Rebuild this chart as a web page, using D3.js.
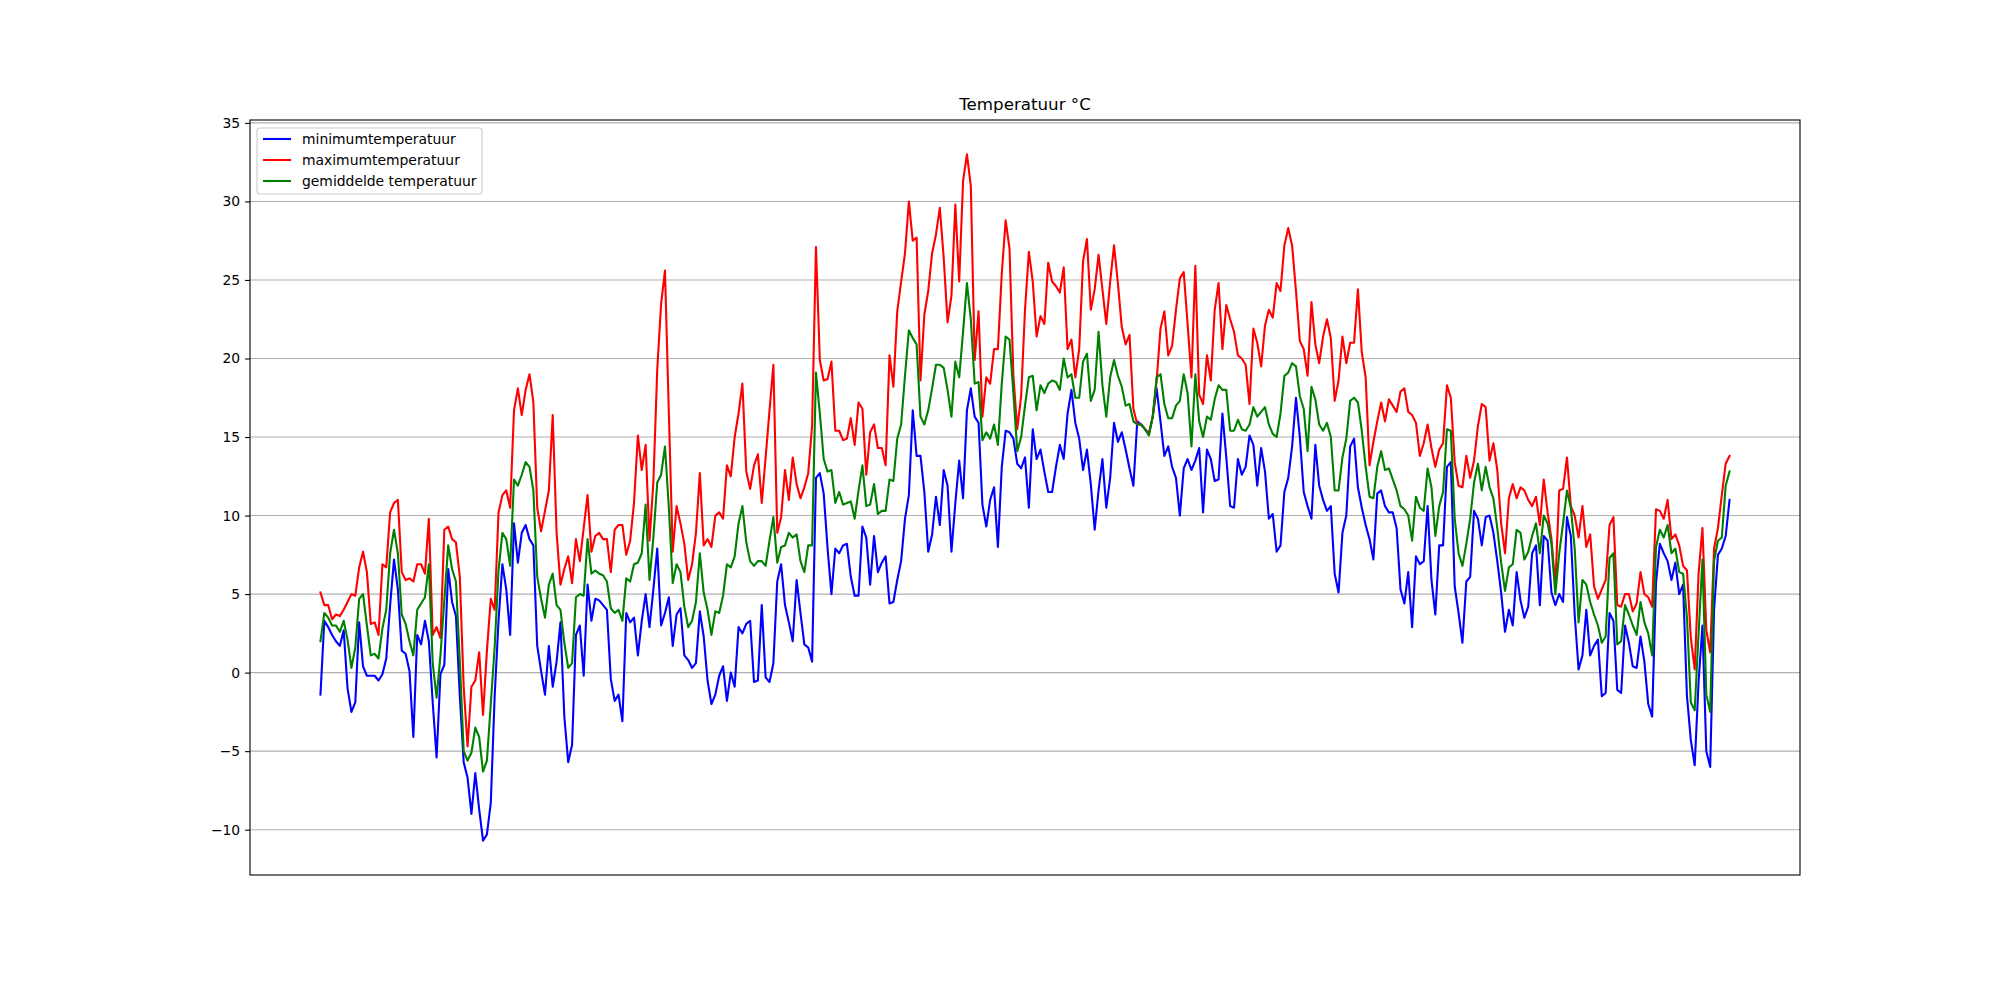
<!DOCTYPE html>
<html>
<head>
<meta charset="utf-8">
<script src="https://cdn.jsdelivr.net/npm/d3@7"></script>
<style>
  body { margin: 0; background: #ffffff; }
  text { font-family: "DejaVu Sans", sans-serif; }
</style>
</head>
<body>
<div class="svg-container"></div>
<script>
var width = 2000;
var height = 1000;
var margin = {top: 120, right: 200, bottom: 125, left: 250};

// daily values, one per day of the year
var minimumtemperatuur = [
  -1.4, 3.3, 2.9, 2.4, 2.0, 1.7, 2.7, -1.0, -2.5, -1.9,
  3.2, 0.4, -0.2, -0.2, -0.2, -0.5, -0.1, 0.9, 4.3, 7.2,
  5.3, 1.4, 1.2, 0.1, -4.1, 2.4, 1.8, 3.3, 2.0, -1.9,
  -5.4, -0.1, 0.5, 6.6, 4.5, 3.6, -1.5, -5.7, -6.7, -9.0,
  -6.4, -8.7, -10.7, -10.3, -8.3, -1.5, 3.3, 6.9, 5.3, 2.4,
  9.5, 7.0, 8.9, 9.4, 8.5, 8.1, 1.7, 0.1, -1.4, 1.7,
  -0.9, 0.7, 3.2, -2.8, -5.7, -4.6, 2.4, 3.0, -0.2, 5.6,
  3.3, 4.7, 4.6, 4.3, 4.0, -0.4, -1.8, -1.4, -3.1, 3.8,
  3.2, 3.5, 1.1, 3.3, 5.0, 2.9, 5.3, 7.9, 3.0, 3.8,
  4.8, 1.7, 3.7, 4.1, 1.1, 0.8, 0.3, 0.6, 3.9, 2.3,
  -0.5, -2.0, -1.4, -0.2, 0.4, -1.8, 0.0, -0.9, 2.9, 2.5,
  3.1, 3.3, -0.6, -0.5, 4.3, -0.3, -0.6, 0.6, 5.8, 6.9,
  4.3, 3.2, 2.0, 5.9, 3.8, 1.8, 1.6, 0.7, 12.4, 12.7,
  11.4, 7.9, 5.0, 7.9, 7.6, 8.1, 8.2, 6.1, 4.9, 4.9,
  9.3, 8.6, 5.6, 8.7, 6.4, 7.0, 7.4, 4.4, 4.5, 5.9,
  7.1, 9.8, 11.3, 16.7, 13.8, 13.8, 11.5, 7.7, 8.8, 11.2,
  9.4, 12.9, 11.9, 7.7, 10.8, 13.5, 11.1, 16.7, 18.1, 16.3,
  15.9, 10.7, 9.3, 11.0, 11.8, 8.0, 13.1, 15.4, 15.3, 14.9,
  13.3, 13.0, 13.7, 10.5, 15.5, 13.6, 14.2, 12.8, 11.5, 11.5,
  13.1, 14.5, 13.6, 16.5, 18.0, 15.9, 14.9, 12.9, 14.2, 12.0,
  9.1, 11.6, 13.6, 10.5, 12.4, 15.9, 14.7, 15.3, 14.2, 13.0,
  11.9, 16.0, 15.8, 15.5, 15.2, 16.3, 18.1, 16.0, 13.8, 14.4,
  13.1, 12.4, 10.0, 13.0, 13.6, 12.9, 13.5, 14.3, 10.2, 14.2,
  13.6, 12.2, 12.3, 16.5, 13.7, 10.6, 10.5, 13.6, 12.6, 13.1,
  15.1, 14.5, 11.9, 14.3, 12.8, 9.8, 10.1, 7.7, 8.1, 11.5,
  12.4, 14.4, 17.5, 15.0, 11.5, 10.6, 9.8, 14.5, 11.9, 11.0,
  10.3, 10.6, 6.3, 5.1, 8.9, 10.0, 14.4, 14.9, 11.8, 10.5,
  9.4, 8.5, 7.2, 11.4, 11.6, 10.6, 10.2, 10.2, 9.2, 5.3,
  4.4, 6.4, 2.9, 7.4, 6.9, 7.1, 10.6, 5.9, 3.7, 8.1,
  8.1, 13.1, 13.4, 5.5, 3.8, 1.9, 5.8, 6.1, 10.3, 9.8,
  8.1, 9.9, 10.0, 8.9, 7.1, 5.1, 2.6, 4.0, 3.0, 6.4,
  4.6, 3.5, 4.2, 7.6, 8.1, 4.3, 8.7, 8.4, 5.1, 4.3,
  5.0, 4.5, 9.9, 8.7, 3.7, 0.2, 1.1, 4.0, 1.1, 1.7,
  2.1, -1.5, -1.3, 3.8, 3.3, -1.1, -1.3, 3.0, 1.9, 0.4,
  0.3, 2.3, 0.7, -2.0, -2.8, 5.7, 8.2, 7.6, 7.1, 5.9,
  7.0, 5.0, 5.6, -1.5, -4.3, -5.9, -0.6, 3.0, -5.0, -6.0,
  4.0, 7.5, 7.9, 8.7, 11.0
];

var maximumtemperatuur = [
  5.1, 4.3, 4.3, 3.4, 3.7, 3.6, 4.0, 4.5, 5.0, 4.9,
  6.7, 7.7, 6.4, 3.1, 3.2, 2.4, 6.9, 6.7, 10.2, 10.8,
  11.0, 6.4, 5.9, 6.0, 5.8, 6.9, 6.9, 6.3, 9.8, 2.4,
  2.9, 2.2, 9.1, 9.3, 8.5, 8.3, 6.1, -0.9, -4.7, -0.9,
  -0.5, 1.3, -2.7, 1.4, 4.7, 4.0, 10.2, 11.3, 11.6, 10.5,
  16.7, 18.1, 16.4, 18.0, 19.0, 17.2, 10.5, 9.0, 10.3, 11.6,
  16.4, 8.9, 5.6, 6.6, 7.4, 5.7, 8.5, 7.1, 9.2, 11.3,
  7.7, 8.7, 8.9, 8.5, 8.5, 6.4, 9.1, 9.4, 9.4, 7.5,
  8.4, 10.8, 15.1, 12.9, 14.5, 8.4, 12.1, 19.3, 23.5, 25.6,
  16.5, 7.7, 10.6, 9.5, 8.2, 5.9, 6.9, 8.9, 12.7, 8.1,
  8.5, 8.0, 10.0, 10.2, 9.8, 13.2, 12.5, 15.0, 16.5, 18.4,
  12.8, 11.7, 13.2, 13.9, 10.8, 13.7, 16.7, 19.6, 8.9, 9.9,
  12.9, 11.0, 13.7, 12.0, 11.1, 11.8, 12.7, 15.7, 27.1, 19.9,
  18.6, 18.7, 19.8, 15.4, 15.4, 14.8, 14.9, 16.2, 14.5, 17.2,
  16.8, 12.6, 15.3, 15.8, 14.3, 14.3, 13.2, 20.2, 18.2, 23.0,
  24.9, 26.7, 30.0, 27.5, 27.7, 18.6, 22.8, 24.3, 26.7, 27.9,
  29.6, 26.4, 22.3, 24.0, 29.8, 24.9, 31.3, 33.0, 31.0, 19.9,
  23.0, 16.3, 18.8, 18.4, 20.6, 20.6, 25.4, 28.8, 27.0, 18.9,
  15.5, 17.6, 23.1, 26.8, 24.9, 21.4, 22.7, 22.2, 26.1, 24.9,
  24.6, 24.2, 25.8, 20.6, 21.2, 18.8, 20.6, 26.2, 27.6, 23.1,
  24.4, 26.6, 24.4, 22.2, 24.9, 27.2, 24.8, 22.0, 20.9, 21.5,
  16.8, 15.8, 15.8, 15.5, 15.2, 16.3, 18.6, 21.9, 23.0, 20.2,
  20.8, 23.1, 25.1, 25.5, 22.2, 18.8, 25.9, 17.7, 17.1, 20.2,
  18.6, 23.1, 24.8, 20.6, 23.4, 22.5, 21.7, 20.2, 20.0, 19.6,
  17.1, 21.9, 21.0, 19.5, 22.1, 23.1, 22.6, 24.8, 24.3, 27.2,
  28.3, 27.2, 24.3, 21.1, 20.6, 18.9, 23.6, 20.9, 19.7, 21.4,
  22.5, 21.3, 17.3, 18.6, 21.4, 19.7, 21.0, 21.0, 24.4, 20.4,
  18.8, 13.2, 14.7, 16.0, 17.2, 16.0, 17.4, 17.0, 16.6, 17.9,
  18.1, 16.6, 16.4, 15.9, 13.8, 14.6, 15.8, 14.3, 13.1, 14.2,
  14.6, 18.3, 17.5, 13.4, 11.9, 11.8, 13.8, 12.4, 13.5, 15.7,
  17.1, 16.9, 13.5, 14.6, 12.9, 9.5, 7.6, 11.1, 12.0, 11.1,
  11.8, 11.6, 11.0, 10.6, 11.2, 9.4, 12.3, 10.2, 8.5, 5.5,
  11.6, 11.7, 13.7, 10.6, 10.0, 8.6, 10.6, 8.0, 8.8, 5.5,
  4.7, 5.3, 5.9, 9.4, 9.9, 4.3, 4.2, 5.0, 5.0, 3.9,
  4.4, 6.4, 5.0, 4.8, 4.2, 10.4, 10.3, 9.8, 11.0, 8.5,
  8.8, 8.1, 6.8, 6.5, 2.2, 0.2, 6.3, 9.2, 2.7, 1.3,
  7.9, 9.2, 11.3, 13.3, 13.8
];

var gemiddeldeTemperatuur = [
  2.0, 3.8, 3.5, 3.0, 3.0, 2.6, 3.3, 2.1, 0.3, 1.6,
  4.7, 5.0, 3.0, 1.1, 1.2, 0.9, 2.8, 4.0, 7.6, 9.1,
  7.6, 3.7, 3.1, 2.0, 1.1, 4.0, 4.4, 4.8, 6.9, 0.6,
  -1.6, 1.1, 4.6, 8.1, 6.6, 5.8, 0.7, -5.0, -5.6, -5.1,
  -3.5, -4.1, -6.3, -5.6, -2.0, 1.6, 6.5, 8.9, 8.5, 6.8,
  12.3, 11.9, 12.6, 13.4, 13.1, 11.6, 6.1, 4.7, 3.5, 5.6,
  6.3, 4.3, 4.0, 1.9, 0.3, 0.6, 4.8, 5.0, 4.9, 8.5,
  6.3, 6.5, 6.3, 6.2, 5.8, 4.1, 3.8, 4.0, 3.3, 6.0,
  5.8, 6.9, 7.0, 7.6, 10.7, 5.9, 8.6, 12.1, 12.6, 14.4,
  10.5, 5.7, 6.9, 6.4, 4.2, 2.9, 3.3, 4.5, 7.6, 5.1,
  4.0, 2.4, 3.9, 3.8, 4.9, 6.9, 6.7, 7.4, 9.5, 10.6,
  8.3, 7.1, 6.8, 7.1, 7.1, 6.8, 8.4, 9.9, 7.0, 8.0,
  8.1, 8.9, 8.6, 8.8, 7.1, 6.4, 8.1, 8.1, 19.1, 16.5,
  13.6, 12.8, 12.9, 10.8, 11.5, 10.7, 10.8, 10.9, 9.8, 11.6,
  13.2, 10.6, 10.7, 12.0, 10.1, 10.3, 10.3, 12.3, 12.2, 14.9,
  15.8, 18.9, 21.8, 21.3, 20.9, 16.3, 15.8, 16.7, 18.1, 19.6,
  19.6, 19.4, 18.0, 16.3, 19.8, 18.8, 21.7, 24.8, 22.5, 18.4,
  18.5, 14.8, 15.3, 14.9, 15.8, 14.5, 18.4, 21.4, 21.2, 17.8,
  14.1, 15.0, 17.0, 18.8, 18.9, 16.7, 18.3, 17.8, 18.4, 18.6,
  18.5, 18.0, 20.0, 18.8, 19.0, 17.5, 17.5, 19.8, 20.3, 17.3,
  18.0, 21.7, 18.3, 16.3, 18.8, 19.9, 18.9, 18.2, 17.0, 17.1,
  16.0, 15.8, 15.8, 15.5, 15.1, 16.3, 18.8, 19.0, 17.1, 16.2,
  16.2, 17.0, 17.3, 19.0, 17.8, 14.4, 19.0, 16.0, 15.0, 16.3,
  16.1, 17.4, 18.3, 18.0, 18.0, 15.4, 15.4, 16.1, 15.5, 15.4,
  15.8, 16.9, 16.3, 16.6, 16.9, 15.8, 15.2, 15.0, 16.5, 18.9,
  19.1, 19.7, 19.5, 17.6, 16.8, 14.1, 18.2, 17.4, 15.8, 15.4,
  15.9, 15.0, 11.6, 11.6, 13.7, 14.9, 17.3, 17.5, 17.2, 15.4,
  13.1, 11.2, 11.1, 13.1, 14.1, 12.9, 13.0, 12.3, 11.6, 10.6,
  10.4, 10.0, 8.4, 11.2, 10.5, 10.3, 13.0, 11.8, 8.7, 10.6,
  11.5, 15.5, 15.4, 9.8, 7.6, 6.8, 8.2, 9.8, 12.1, 13.3,
  11.6, 13.1, 11.8, 11.1, 9.2, 7.0, 5.2, 6.7, 6.9, 9.1,
  8.9, 7.2, 7.7, 8.7, 9.5, 7.6, 10.0, 9.5, 8.2, 5.0,
  7.6, 9.5, 11.6, 10.5, 7.9, 3.2, 5.9, 5.6, 4.5, 3.7,
  3.0, 1.9, 2.3, 7.3, 7.6, 1.8, 2.0, 4.3, 3.7, 3.0,
  2.4, 4.5, 3.2, 2.5, 1.1, 8.0, 9.1, 8.6, 9.4, 7.6,
  7.9, 6.4, 6.3, 3.5, -1.9, -2.4, 2.5, 7.2, -1.4, -2.5,
  7.1, 8.4, 8.6, 11.9, 12.8
];

var yTicks = [-10, -5, 0, 5, 10, 15, 20, 25, 30, 35];

var series = [
  { "name": "minimumtemperatuur", "color": "blue", "values": minimumtemperatuur },
  { "name": "maximumtemperatuur", "color": "red", "values": maximumtemperatuur },
  { "name": "gemiddelde temperatuur", "color": "green", "values": gemiddeldeTemperatuur }
];

var plotW = width - margin.left - margin.right;
var plotH = height - margin.top - margin.bottom;

var n = minimumtemperatuur.length;
var allValues = minimumtemperatuur.concat(maximumtemperatuur, gemiddeldeTemperatuur);
var yMin = d3.min(allValues), yMax = d3.max(allValues);
var yPad = (yMax - yMin) * 0.05;
var xPad = (n - 1) * 0.05;

var x = d3.scaleLinear()
          .domain([-xPad, n - 1 + xPad])
          .range([0, plotW]);

var y = d3.scaleLinear()
          .domain([yMin - yPad, yMax + yPad])
          .range([plotH, 0]);

var svgCanvas = d3.select(".svg-container").append("svg")
                  .attr("width", width)
                  .attr("height", height)
                  .style("background-color", "#ffffff");

var g = svgCanvas.append("g")
                 .attr("transform", "translate(" + margin.left + "," + margin.top + ")");

// horizontal grid
g.selectAll("line.grid")
 .data(yTicks)
 .enter()
 .append("line")
 .attr("class", "grid")
 .attr("x1", 0)
 .attr("x2", plotW)
 .attr("y1", function(d) { return y(d) })
 .attr("y2", function(d) { return y(d) })
 .style("stroke", "#b0b0b0")
 .style("stroke-width", 1.1);

var yAxis = g.append("g")
             .call(d3.axisLeft(y)
                     .tickValues(yTicks)
                     .tickSize(4.9)
                     .tickPadding(4.9));
yAxis.select(".domain").remove();
yAxis.selectAll(".tick line").style("stroke", "#000").style("stroke-width", 1.1);
yAxis.selectAll(".tick text")
     .style("font-size", "13.9px")
     .style("font-family", "DejaVu Sans")
     .style("fill", "#000");

var line = d3.line()
             .x(function(d, i) { return x(i) })
             .y(function(d) { return y(d) });

g.selectAll("path.serie")
 .data(series)
 .enter()
 .append("path")
 .attr("class", "serie")
 .attr("d", function(d) { return line(d.values) })
 .style("fill", "none")
 .style("stroke", function(d) { return d.color })
 .style("stroke-width", 2.1)
 .style("stroke-linejoin", "round")
 .style("stroke-linecap", "square");

// frame
g.append("rect")
 .attr("x", 0)
 .attr("y", 0)
 .attr("width", plotW)
 .attr("height", plotH)
 .style("fill", "none")
 .style("stroke", "#000")
 .style("stroke-width", 1.1);

svgCanvas.append("text")
         .attr("x", margin.left + plotW / 2)
         .attr("y", margin.top - 10)
         .attr("text-anchor", "middle")
         .style("font-size", "16.7px")
         .text("Temperatuur °C");

// legend
var legend = g.append("g").attr("transform", "translate(7,8)");

legend.append("rect")
      .attr("width", 225)
      .attr("height", 66)
      .attr("rx", 3)
      .style("fill", "#ffffff")
      .style("fill-opacity", 0.8)
      .style("stroke", "#cccccc")
      .style("stroke-width", 1.1);

var items = legend.selectAll("g.item")
                  .data(series)
                  .enter()
                  .append("g")
                  .attr("class", "item")
                  .attr("transform", function(d, i) { return "translate(0," + (11 + i * 21) + ")" });

items.append("line")
     .attr("x1", 6)
     .attr("x2", 34)
     .style("stroke", function(d) { return d.color })
     .style("stroke-width", 2.1);

items.append("text")
     .attr("x", 45)
     .attr("dy", "0.35em")
     .style("font-size", "13.9px")
     .text(function(d) { return d.name });
</script>
</body>
</html>
